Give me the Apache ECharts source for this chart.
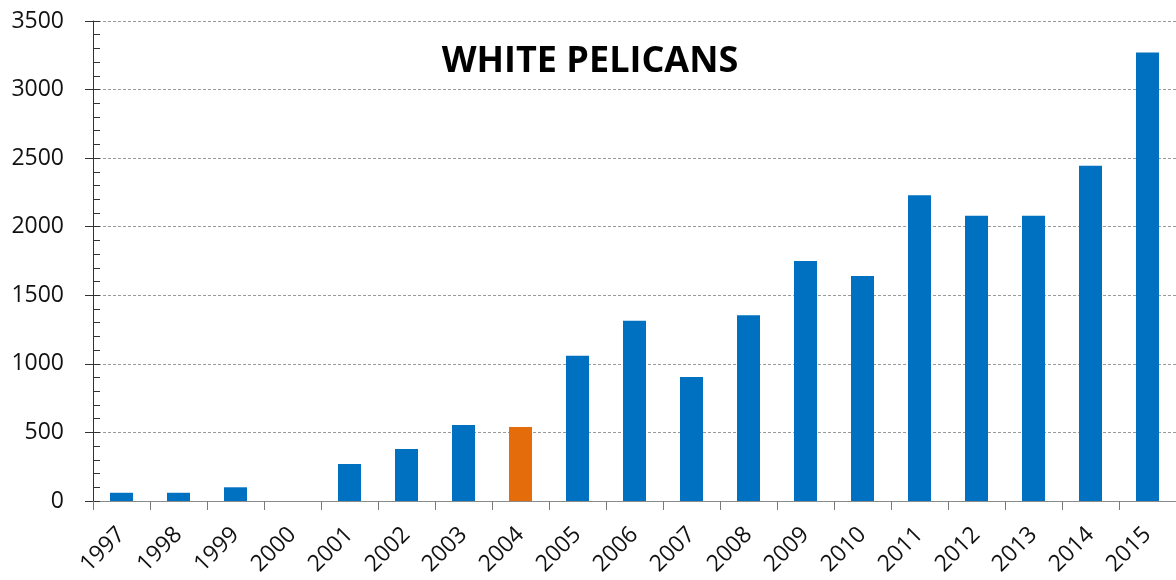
<!DOCTYPE html>
<html>
<head>
<meta charset="utf-8">
<script src="https://cdn.jsdelivr.net/npm/echarts@6/dist/echarts.min.js"></script>
<style>
  html, body { margin: 0; padding: 0; background: #fff; }
  #chart { width: 1176px; height: 580px; }
</style>
</head>
<body>
<div id="chart"></div>
<script>
// data
const years = ["1997", "1998", "1999", "2000", "2001", "2002", "2003", "2004", "2005", "2006",
  "2007", "2008", "2009", "2010", "2011", "2012", "2013", "2014", "2015"];
const counts = [60, 60, 100, 0, 270, 380, 555, 540, 1060, 1315,
  905, 1355, 1750, 1640, 2230, 2080, 2080, 2445, 3270];
const highlightYears = ["2004"];
const yTicks = [0, 500, 1000, 1500, 2000, 2500, 3000, 3500];

const blue = "#0070c0";
const orange = "#e46c0a";

const chart = echarts.init(document.getElementById("chart"));

const barData = counts.map((v, i) => ({
  value: v,
  itemStyle: { color: highlightYears.includes(years[i]) ? orange : blue }
}));

const yMin = yTicks[0];
const yMax = yTicks[yTicks.length - 1];
const yStep = yTicks[1] - yTicks[0];

chart.setOption({
  backgroundColor: "#fff",
  animation: false,
  title: {
    text: "WHITE PELICANS",
    left: 585,
    top: 39,
    textAlign: "center",
    textStyle: { fontFamily: "Open Sans", fontWeight: "bold", fontSize: 36, color: "#000" }
  },
  grid: { left: 93, top: 21, bottom: 79, width: 1085 },
  xAxis: {
    type: "category",
    data: years,
    axisLine: { lineStyle: { color: "#8a8a8a", width: 1 } },
    axisTick: { show: true, length: 9, lineStyle: { color: "#7a7a7a" } },
    axisLabel: {
      rotate: 45,
      margin: 30,
      padding: [0, 0, 0, 0],
      fontFamily: "Open Sans",
      fontSize: 23,
      color: "#111"
    }
  },
  yAxis: [
    {
      type: "value",
      min: yMin,
      max: yMax,
      interval: yStep,
      axisLine: { show: true, lineStyle: { color: "#333", width: 1 } },
      axisTick: { show: true, length: 8, lineStyle: { color: "#333" } },
      axisLabel: {
        margin: 29,
        fontFamily: "Open Sans",
        fontSize: 23,
        color: "#111",
        formatter: (v) => String(v)
      },
      splitLine: { show: true, lineStyle: { color: "#9a9a9a", type: [3, 2], width: 1 } }
    },
    {
      // inside ticks + minor ticks
      type: "value",
      position: "left",
      min: yMin,
      max: yMax,
      interval: yStep,
      axisLine: { show: false },
      axisTick: { show: true, inside: true, length: 7, lineStyle: { color: "#333" } },
      minorTick: { show: true, splitNumber: 5, length: 7, lineStyle: { color: "#333" } },
      axisLabel: { show: false },
      splitLine: { show: false }
    }
  ],
  series: [
    {
      type: "bar",
      data: barData,
      barWidth: 23
    }
  ]
});
</script>
</body>
</html>
